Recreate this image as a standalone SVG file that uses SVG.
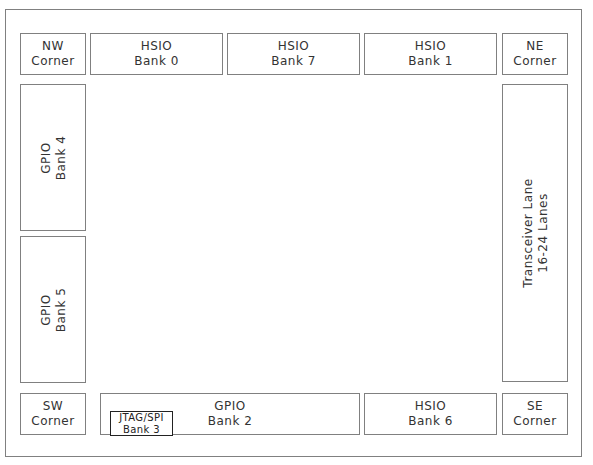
<svg xmlns="http://www.w3.org/2000/svg" width="593" height="465" viewBox="0 0 593 465">
<style>
.b{fill:#fff;stroke:#808080;stroke-width:1}
.t{font-family:"DejaVu Sans",Verdana,sans-serif;font-size:12px;fill:#333;text-anchor:middle;letter-spacing:0.5px}
.s{font-family:"DejaVu Sans",Verdana,sans-serif;font-size:10px;fill:#222;text-anchor:middle;letter-spacing:0.4px}
</style>
<rect x="0" y="0" width="593" height="465" fill="#fff"/>
<rect id="frame" x="5.5" y="9.5" width="576" height="447" fill="#fff" stroke="#808080"/>
<g id="nw"><rect class="b" x="20.5" y="33.5" width="65" height="41"/><text class="t" x="53" y="50">NW</text><text class="t" x="53" y="65">Corner</text></g>
<g id="hsio0"><rect class="b" x="90.5" y="33.5" width="132" height="41"/><text class="t" x="156.5" y="50">HSIO</text><text class="t" x="156.5" y="65">Bank 0</text></g>
<g id="hsio7"><rect class="b" x="227.5" y="33.5" width="132" height="41"/><text class="t" x="293.5" y="50">HSIO</text><text class="t" x="293.5" y="65">Bank 7</text></g>
<g id="hsio1"><rect class="b" x="364.5" y="33.5" width="132" height="41"/><text class="t" x="430.5" y="50">HSIO</text><text class="t" x="430.5" y="65">Bank 1</text></g>
<g id="ne"><rect class="b" x="502.5" y="33.5" width="65" height="41"/><text class="t" x="535" y="50">NE</text><text class="t" x="535" y="65">Corner</text></g>
<g id="gpio4"><rect class="b" x="20.5" y="84.5" width="65" height="146"/><g transform="translate(53 158) rotate(-90)"><text class="t" x="0" y="-3">GPIO</text><text class="t" x="0" y="12">Bank 4</text></g></g>
<g id="gpio5"><rect class="b" x="20.5" y="236.5" width="65" height="146"/><g transform="translate(53 310) rotate(-90)"><text class="t" x="0" y="-3">GPIO</text><text class="t" x="0" y="12">Bank 5</text></g></g>
<g id="xcvr"><rect class="b" x="502.5" y="84.5" width="65" height="297"/><g transform="translate(535 233) rotate(-90)"><text class="t" x="0" y="-3">Transceiver Lane</text><text class="t" x="0" y="12">16-24 Lanes</text></g></g>
<g id="sw"><rect class="b" x="20.5" y="393.5" width="65" height="41"/><text class="t" x="53" y="410">SW</text><text class="t" x="53" y="425">Corner</text></g>
<g id="gpio2"><rect class="b" x="100.5" y="393.5" width="259" height="41"/><text class="t" x="230" y="410">GPIO</text><text class="t" x="230" y="425">Bank 2</text></g>
<g id="jtag"><rect x="110.5" y="411.5" width="62" height="24" fill="#fff" stroke="#222"/><text class="s" x="141.5" y="421">JTAG/SPI</text><text class="s" x="141.5" y="433">Bank 3</text></g>
<g id="hsio6"><rect class="b" x="364.5" y="393.5" width="132" height="41"/><text class="t" x="430.5" y="410">HSIO</text><text class="t" x="430.5" y="425">Bank 6</text></g>
<g id="se"><rect class="b" x="502.5" y="393.5" width="65" height="41"/><text class="t" x="535" y="410">SE</text><text class="t" x="535" y="425">Corner</text></g>
<g id="connectors"></g>
</svg>
